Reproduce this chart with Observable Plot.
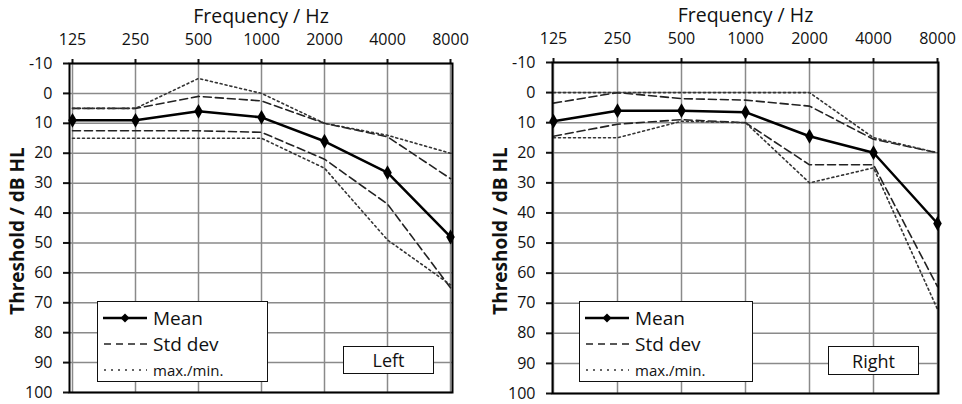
<!DOCTYPE html>
<html><head><meta charset="utf-8">
<script src="https://cdn.jsdelivr.net/npm/d3@7"></script>
<script src="https://cdn.jsdelivr.net/npm/@observablehq/plot@0.6"></script>
<style>
body{margin:0;background:#fff;font-family:"Open Sans",sans-serif;}
#wrap{position:relative;width:962px;height:404px;overflow:hidden}
.panel{position:absolute;top:0}
.legend{position:absolute;border:1.5px solid #111;background:#fff;box-sizing:border-box}
.legend .row{position:absolute;left:0;height:20px;display:flex;align-items:center}
.legend svg{display:block;margin-left:5px;margin-right:6px}
.legend span{color:#111;line-height:1}
.tag{position:absolute;border:1.5px solid #111;background:#fff;box-sizing:border-box;display:flex;align-items:center;justify-content:center;font-size:18px;color:#111}
</style></head>
<body><div id="wrap"></div>
<script>
const freqs = [125, 250, 500, 1000, 2000, 4000, 8000];
const yTicks = [-10, 0, 10, 20, 30, 40, 50, 60, 70, 80, 90, 100];

const leftMean     = [9, 9, 6, 8, 16, 26.5, 48];
const leftStdUp    = [5, 5, 1, 2.5, 10, 14.5, 28.5];
const leftStdLow   = [12.5, 12.5, 12.5, 13, 22, 37, 65];
const leftMaxUp    = [5, 5, -5, 0, 10, 14, 20];
const leftMinLow   = [15, 15, 15, 15, 25, 49, 64];

const rightMean    = [9.5, 6, 6, 6.5, 14.5, 20, 43.5];
const rightStdUp   = [3.5, 0, 2, 2.5, 4.5, 15.5, 20];
const rightStdLow  = [14.5, 10.5, 9, 10, 24, 24, 64.5];
const rightMaxUp   = [0, 0, 0, 0, 0, 15, 20];
const rightMinLow  = [15, 15, 9.5, 10, 30, 25, 72];

const xTitle = "Frequency / Hz";
const yTitle = "Threshold / dB HL";
const legendLabels = ["Mean", "Std dev", "max./min."];

const toRows = vals => freqs.map((f, i) => ({f, v: vals[i]}));

function panel(cfg) {
  const dash = {stroke: "#222", strokeWidth: 1.6, strokeDasharray: "8,4"};
  const dot = {stroke: "#333", strokeWidth: 1.6, strokeDasharray: "2,3"};
  return Plot.plot({
    width: 481, height: 404,
    marginLeft: cfg.ml, marginRight: cfg.mr, marginTop: cfg.mt, marginBottom: cfg.mb,
    style: {fontFamily: "Open Sans, sans-serif", fontSize: "16px", color: "#111", background: "white", overflow: "visible"},
    x: {type: "point", domain: freqs, padding: 0},
    y: {domain: [-10, 100], reverse: true},
    marks: [
      Plot.gridX(freqs, {stroke: "#8a8a8a", strokeOpacity: 1, strokeWidth: 1.5}),
      Plot.gridY(yTicks, {stroke: "#8a8a8a", strokeOpacity: 1, strokeWidth: 1.5}),
      Plot.axisX(freqs, {anchor: "top", tickSize: 5, tickPadding: 14, strokeWidth: 2, tickFormat: d => String(d), label: null}),
      Plot.axisY(yTicks, {anchor: "left", tickSize: 6, tickPadding: 11, strokeWidth: 2, tickFormat: d => String(d), label: null}),
      Plot.line(toRows(cfg.stdUp), {x: "f", y: "v", ...dash}),
      Plot.line(toRows(cfg.stdLow), {x: "f", y: "v", ...dash}),
      Plot.line(toRows(cfg.maxUp), {x: "f", y: "v", ...dot}),
      Plot.line(toRows(cfg.minLow), {x: "f", y: "v", ...dot}),
      Plot.frame({stroke: "#000", strokeWidth: 2}),
      Plot.line(toRows(cfg.mean), {x: "f", y: "v", stroke: "#000", strokeWidth: 2.5}),
      Plot.dot(toRows(cfg.mean), {x: "f", y: "v", symbol: "diamond", r: 4.5, fill: "#000", stroke: "none"}),
      Plot.text([xTitle], {frameAnchor: "top", dy: -47, fontSize: 19.5, textAnchor: "middle", lineAnchor: "middle", fill: "#111"}),
      Plot.text([yTitle], {frameAnchor: "left", dx: -52, dy: 3, rotate: -90, fontSize: 19, fontWeight: "bold", textAnchor: "middle", lineAnchor: "middle", fill: "#111"})
    ]
  });
}

function sample(kind) {
  let inner;
  if (kind === 0) inner = '<line x1="0" y1="6" x2="44" y2="6" stroke="#000" stroke-width="2.5"/><path d="M22 1.5 L26.5 6 L22 10.5 L17.5 6Z" fill="#000"/>';
  else if (kind === 1) inner = '<line x1="1" y1="6" x2="44" y2="6" stroke="#222" stroke-width="1.5" stroke-dasharray="7,5"/>';
  else inner = '<line x1="1" y1="6" x2="44" y2="6" stroke="#333" stroke-width="1.5" stroke-dasharray="2,5"/>';
  return `<svg width="44" height="12">${inner}</svg>`;
}

function addLegend(wrap, left, top, w, h) {
  const box = document.createElement("div");
  box.className = "legend";
  Object.assign(box.style, {left: left + "px", top: top + "px", width: w + "px", height: h + "px"});
  const rowsY = [6, 32, 58];
  const sizes = [19, 19, 15];
  legendLabels.forEach((lab, i) => {
    const r = document.createElement("div");
    r.className = "row";
    r.style.top = rowsY[i] + "px";
    r.innerHTML = sample(i) + `<span style="font-size:${sizes[i]}px">${lab}</span>`;
    box.appendChild(r);
  });
  wrap.appendChild(box);
}
function addTag(wrap, text, left, top, w, h) {
  const t = document.createElement("div");
  t.className = "tag";
  Object.assign(t.style, {left: left + "px", top: top + "px", width: w + "px", height: h + "px"});
  t.textContent = text;
  wrap.appendChild(t);
}

const wrap = document.getElementById("wrap");
const p1 = panel({ml: 69, mr: 29, mt: 63, mb: 12, mean: leftMean, stdUp: leftStdUp, stdLow: leftStdLow, maxUp: leftMaxUp, minLow: leftMinLow});
p1.classList.add("panel"); p1.style.left = "0px";
wrap.appendChild(p1);
const p2 = panel({ml: 71, mr: 24, mt: 62, mb: 11, mean: rightMean, stdUp: rightStdUp, stdLow: rightStdLow, maxUp: rightMaxUp, minLow: rightMinLow});
p2.classList.add("panel"); p2.style.left = "481px";
wrap.appendChild(p2);

addLegend(wrap, 97, 301, 171, 81);
addTag(wrap, "Left", 343, 346, 91, 28);
addLegend(wrap, 579, 301, 174, 81);
addTag(wrap, "Right", 828, 346, 91, 29);
</script>
</body></html>
